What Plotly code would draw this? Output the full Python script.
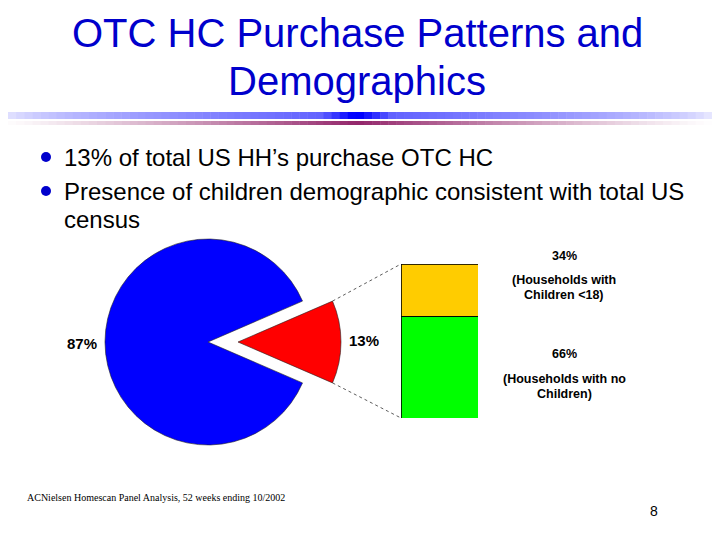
import plotly.graph_objects as go
import math

# ---- data ----
title_lines = ["OTC HC Purchase Patterns and", "Demographics"]
bullet_lines = [
    ["13% of total US HH\u2019s purchase OTC HC"],
    ["Presence of children demographic consistent with total US", "census"],
]
pie_labels = ["Purchase OTC HC", "Do not purchase"]
pie_values = [13, 87]
pie_colors = ["#FF0000", "#0000FF"]
bar_labels = ["Households with no Children", "Households with Children <18"]
bar_values = [66, 34]
bar_colors = ["#00FF00", "#FFCC00"]
bar_captions = {
    "Households with Children <18": ["(Households with", "Children <18)"],
    "Households with no Children": ["(Households with no", "Children)"],
}
footer = "ACNielsen Homescan Panel Analysis, 52 weeks ending 10/2002"
page_no = "8"

# page has an 8px body margin; work in window pixels
OFF = 8
W, H = 720 - OFF, 540 - OFF
def px(x):
    return (x - OFF) / W
def py(y):
    return 1 - (y - OFF) / H

fig = go.Figure()

# ---- pie geometry (window pixels) ----
pcx, pcy = 208, 342
r = 103
pull_px = 30
pull = pull_px / r
half = pie_values[0] / sum(pie_values) * 360 / 2
box_half = r * (1 + pull)
fig.add_trace(go.Pie(
    labels=pie_labels, values=pie_values, sort=False,
    direction="counterclockwise", rotation=90 - half,
    pull=[pull, 0],
    marker=dict(colors=pie_colors, line=dict(color="#222222", width=0.6)),
    textinfo="none", hoverinfo="skip", showlegend=False,
    domain=dict(x=[px(pcx - box_half), px(pcx + box_half)],
                y=[py(pcy + box_half), py(pcy - box_half)]),
))

# ---- stacked bar ----
bx0, bx1, by0, by1 = 401, 478, 264, 418
for lab, val, col in zip(bar_labels, bar_values, bar_colors):
    fig.add_trace(go.Bar(
        x=[0], y=[val], name=lab, width=1,
        marker=dict(color=col, line=dict(color="#000000", width=0.8)),
        hoverinfo="skip", showlegend=False,
    ))

fig.update_layout(
    width=W, height=H, margin=dict(l=0, r=0, t=0, b=0),
    paper_bgcolor="white", plot_bgcolor="white",
    barmode="stack",
    xaxis=dict(domain=[px(bx0), px(bx1)], range=[-0.5, 0.5], visible=False, fixedrange=True),
    yaxis=dict(domain=[py(by1), py(by0)], range=[0, sum(bar_values)], visible=False, fixedrange=True),
)

shapes = []
annotations = []

# ---- title ----
for t, yy in zip(title_lines, [33, 81]):
    annotations.append(dict(text=t, x=px(357), y=py(yy), xref="paper", yref="paper",
                            xanchor="center", yanchor="middle", showarrow=False,
                            font=dict(family="Liberation Sans, Arial", size=40, color="#0000CC")))

# ---- gradient rule under title ----
nseg = 88
x_start = OFF
segw = (720 - x_start) / nseg
def mix(c, t):
    return "rgb(%d,%d,%d)" % tuple(round(255 + (ci - 255) * t) for ci in c)
for k in range(nseg):
    xa = x_start + k * segw
    xc = xa + segw / 2
    d = abs(xc - 357) / 357
    t1 = max(0.0, 1 - d) ** 0.6
    tb = 0.6 * t1 + (0.4 * (1 - d * 10) if d < 0.1 else 0)
    tm = max(0.0, 1 - d) ** 1.2
    shapes.append(dict(type="rect", xref="paper", yref="paper",
                       x0=px(xa), x1=px(xa + segw + 0.5), y0=py(119), y1=py(112),
                       line=dict(width=0), fillcolor=mix((0, 0, 255), min(1, tb + 0.05))))
    shapes.append(dict(type="rect", xref="paper", yref="paper",
                       x0=px(xa), x1=px(xa + segw + 0.5), y0=py(125), y1=py(121),
                       line=dict(width=0), fillcolor=mix((128, 0, 80), min(1, 0.85 * tm))))

# ---- bullets ----
line_y = [[157], [191, 219]]
for para, ys in zip(bullet_lines, line_y):
    yb = ys[0]
    shapes.append(dict(type="circle", xref="paper", yref="paper",
                       x0=px(41), x1=px(51), y0=py(yb + 5), y1=py(yb - 5),
                       fillcolor="#0000CC", line=dict(width=0)))
    for t, yy in zip(para, ys):
        annotations.append(dict(text=t, x=px(62), y=py(yy), xref="paper", yref="paper",
                                xanchor="left", yanchor="middle", showarrow=False,
                                font=dict(family="Liberation Sans, Arial", size=24, color="#000000")))

# ---- pie labels ----
lab_font = dict(family="Liberation Sans, Arial", size=15, color="#000000")
annotations.append(dict(text="<b>%d%%</b>" % pie_values[1], x=px(82), y=py(343), xref="paper", yref="paper",
                        xanchor="center", yanchor="middle", showarrow=False, font=lab_font))
annotations.append(dict(text="<b>%d%%</b>" % pie_values[0], x=px(364), y=py(340), xref="paper", yref="paper",
                        xanchor="center", yanchor="middle", showarrow=False, font=lab_font))

# ---- connectors from exploded slice to bar ----
tipx = pcx + pull_px
a = math.radians(half)
top_pt = (tipx + r * math.cos(a), pcy - r * math.sin(a))
bot_pt = (tipx + r * math.cos(a), pcy + r * math.sin(a))
for (sx, sy), (ex, ey) in [(top_pt, (bx0, by0)), (bot_pt, (bx0, by1))]:
    shapes.append(dict(type="line", xref="paper", yref="paper",
                       x0=px(sx), y0=py(sy), x1=px(ex), y1=py(ey),
                       line=dict(color="#333333", width=0.8, dash="dot")))

# ---- bar captions ----
cap_font = dict(family="Liberation Sans, Arial", size=12.5, color="#000000")
cap_pos = {
    "Households with Children <18": (256, [280, 295]),
    "Households with no Children": (354, [379, 394]),
}
for lab, val in zip(bar_labels, bar_values):
    yv, ys = cap_pos[lab]
    annotations.append(dict(text="<b>%d%%</b>" % val, x=px(564), y=py(yv), xref="paper", yref="paper",
                            xanchor="center", yanchor="middle", showarrow=False, font=cap_font))
    for t, yy in zip(bar_captions[lab], ys):
        annotations.append(dict(text="<b>%s</b>" % t, x=px(564), y=py(yy), xref="paper", yref="paper",
                                xanchor="center", yanchor="middle", showarrow=False, font=cap_font))

# ---- footer ----
annotations.append(dict(text=footer, x=px(25), y=py(497), xref="paper", yref="paper",
                        xanchor="left", yanchor="middle", showarrow=False,
                        font=dict(family="Liberation Serif, Times New Roman", size=10, color="#000000")))
annotations.append(dict(text=page_no, x=px(654), y=py(511), xref="paper", yref="paper",
                        xanchor="center", yanchor="middle", showarrow=False,
                        font=dict(family="Liberation Sans, Arial", size=14, color="#000000")))

fig.update_layout(shapes=shapes, annotations=annotations)
fig.write_html("out.html", config={"displayModeBar": False})
